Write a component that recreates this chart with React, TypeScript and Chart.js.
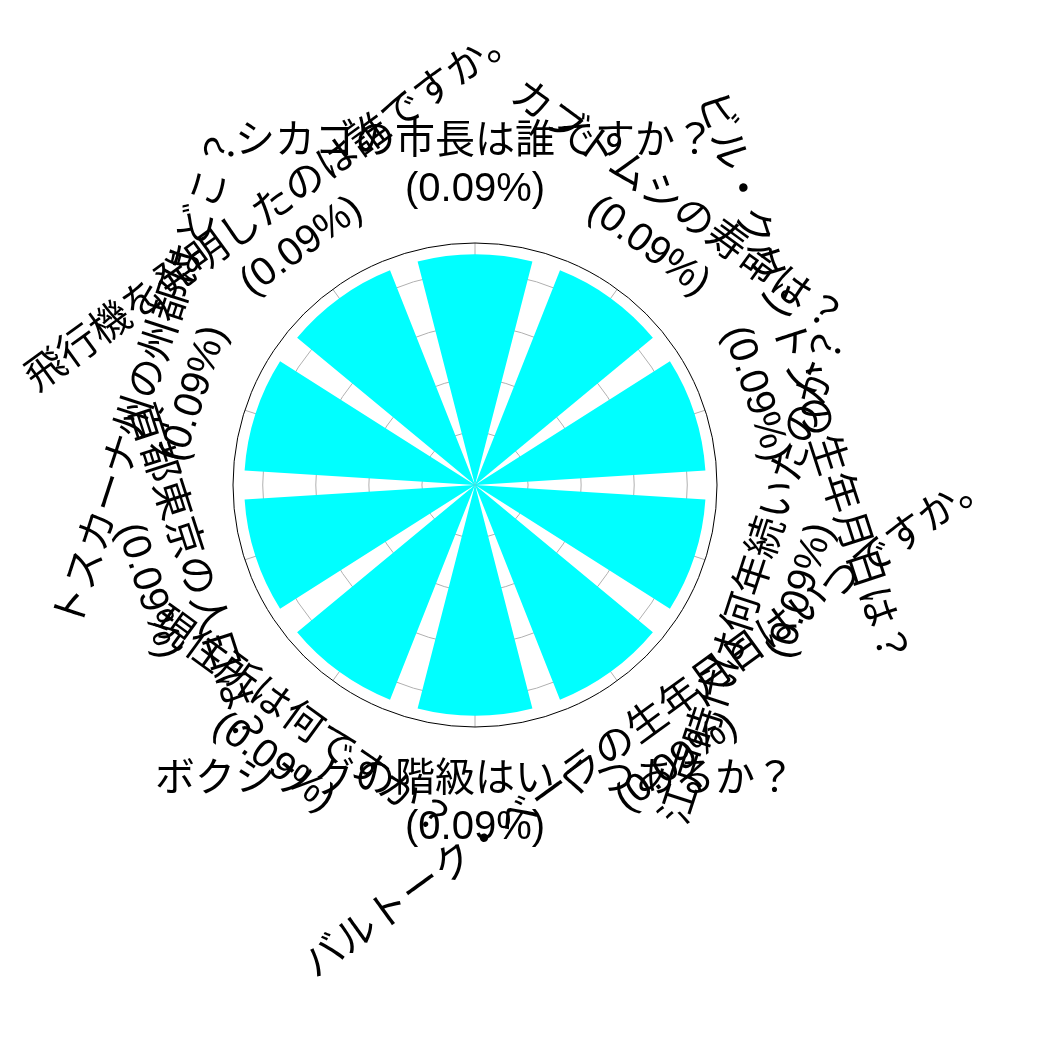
import React, { useEffect, useRef } from 'react';
import { Chart, registerables } from 'chart.js';

Chart.register(...registerables);

// Questions, clockwise from the top
const categories = [
  'シカゴの市長は誰ですか？',
  'カブトムシの寿命は？',
  'ビル・クリントンの生年月日は？',
  '江戸時代は何年続いたのか？',
  'バルトーク・ベーラの生年月日はいつですか。',
  'ボクシングの階級はいくつあるか？',
  '現住所は何ですか？',
  '首都東京の人口は？',
  'トスカーナ州の州都はどこ？',
  '飛行機を発明したのは誰ですか。',
];

// Share of each question (percent)
const shares = [0.087, 0.087, 0.087, 0.087, 0.087, 0.087, 0.087, 0.087, 0.087, 0.087];

// Radial axis
const radialMax = 0.0912;
const radialStep = 0.02;

const BAR_FILL = 0.8;
const FONT = '40px "Liberation Sans", "Noto Sans CJK JP", sans-serif';

export default function App() {
  const ref = useRef<HTMLCanvasElement>(null);

  useEffect(() => {
    const canvas = ref.current;
    if (!canvas) return;
    const n = categories.length;
    const slot = 360 / n;
    const barAngle = slot * BAR_FILL;
    const gapAngle = slot - barAngle;

    const labels: string[] = [];
    const values: number[] = [];
    categories.forEach((c, i) => {
      labels.push(c);
      values.push(shares[i]);
      labels.push('');
      values.push(0);
    });

    const decor = {
      id: 'decor',
      beforeDatasetsDraw(chart: any) {
        const r = chart.scales.r;
        const ctx = chart.ctx as CanvasRenderingContext2D;
        const meta = chart.getDatasetMeta(0);
        ctx.save();
        ctx.strokeStyle = '#b0b0b0';
        ctx.lineWidth = 1;
        for (let i = 0; i < meta.data.length; i += 2) {
          const a = meta.data[i];
          const mid = (a.startAngle + a.endAngle) / 2;
          ctx.beginPath();
          ctx.moveTo(r.xCenter, r.yCenter);
          ctx.lineTo(r.xCenter + r.drawingArea * Math.cos(mid), r.yCenter + r.drawingArea * Math.sin(mid));
          ctx.stroke();
        }
        ctx.strokeStyle = '#000000';
        ctx.beginPath();
        ctx.arc(r.xCenter, r.yCenter, r.drawingArea, 0, Math.PI * 2);
        ctx.stroke();
        ctx.restore();
      },
      afterDraw(chart: any) {
        const r = chart.scales.r;
        const ctx = chart.ctx as CanvasRenderingContext2D;
        const meta = chart.getDatasetMeta(0);
        const R = r.drawingArea * 1.318;
        ctx.save();
        ctx.font = FONT;
        ctx.fillStyle = '#000000';
        ctx.textAlign = 'center';
        ctx.textBaseline = 'middle';
        for (let i = 0; i < meta.data.length; i += 2) {
          const k = i / 2;
          const a = meta.data[i];
          const mid = (a.startAngle + a.endAngle) / 2;
          const x = r.xCenter + R * Math.cos(mid);
          const y = r.yCenter + R * Math.sin(mid);
          let rot = mid + Math.PI / 2;
          if (Math.sin(mid) > 0.001) rot -= Math.PI;
          ctx.save();
          ctx.translate(x, y);
          ctx.rotate(rot);
          ctx.fillText(categories[k], 0, -24);
          ctx.fillText('(' + shares[k].toFixed(2) + '%)', 0, 24);
          ctx.restore();
        }
        ctx.restore();
      },
    };

    const chart = new Chart(canvas, {
      type: 'polarArea',
      data: {
        labels,
        datasets: [
          {
            data: values,
            backgroundColor: values.map((_, i) => (i % 2 === 0 ? '#00ffff' : 'rgba(0,0,0,0)')),
            borderWidth: 0,
            angle: (c: any) => (c.dataIndex % 2 === 0 ? barAngle : gapAngle),
          } as any,
        ],
      },
      options: {
        responsive: false,
        maintainAspectRatio: false,
        animation: false,
        devicePixelRatio: 1,
        layout: { padding: { left: 233, right: 333, top: 243, bottom: 317 } },
        plugins: { legend: { display: false }, tooltip: { enabled: false } },
        scales: {
          r: {
            type: 'radialLinear',
            min: 0,
            max: radialMax,
            bounds: 'data',
            startAngle: -barAngle / 2,
            ticks: { display: false, stepSize: radialStep, includeBounds: false },
            grid: { display: true, circular: true, color: '#b0b0b0', lineWidth: 1 },
            angleLines: { display: false },
            pointLabels: { display: false },
          } as any,
        },
      },
      plugins: [decor],
    });
    return () => chart.destroy();
  }, []);

  return (
    <div style={{ position: 'absolute', left: 0, top: 0, width: 1050, height: 1044, background: '#ffffff' }}>
      <canvas ref={ref} width={1050} height={1044} style={{ display: 'block' }} />
    </div>
  );
}
